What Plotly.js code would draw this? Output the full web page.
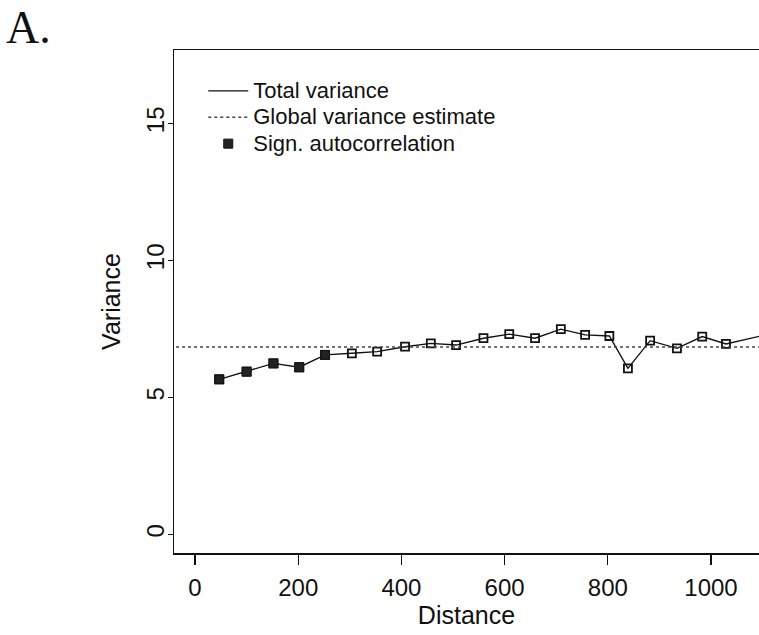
<!DOCTYPE html>
<html>
<head>
<meta charset="utf-8">
<script src="https://cdn.plot.ly/plotly-3.0.1.min.js"></script>
<style>html,body{margin:0;padding:0;background:#fff;}#chart{width:759px;height:635px;}</style>
</head>
<body>
<div id="chart"></div>
<script>
// Data
const distance = [47, 100, 152, 202, 252, 304, 353, 407, 457, 506, 559, 609, 659, 709, 756, 803, 839, 882, 934, 983, 1029, 1110];
const totalVariance = [5.66, 5.94, 6.24, 6.10, 6.55, 6.61, 6.67, 6.85, 6.97, 6.91, 7.16, 7.31, 7.16, 7.49, 7.28, 7.24, 6.06, 7.07, 6.79, 7.22, 6.95, 7.30];
const significant = [true, true, true, true, true, false, false, false, false, false, false, false, false, false, false, false, false, false, false, false, false, false];
const globalVariance = 6.84;
const globalX = [-60, 1200];
const xTicks = [0, 200, 400, 600, 800, 1000];
const yTicks = [0, 5, 10, 15];
const seriesNames = ['Total variance', 'Global variance estimate', 'Sign. autocorrelation'];

const sigX = distance.filter((d, i) => significant[i]);
const sigY = totalVariance.filter((d, i) => significant[i]);

const font = 'Liberation Sans, Arial, Helvetica, sans-serif';
const big = s => '<span style="font-size:22px">' + s + '</span>';

const traces = [
  {
    x: distance, y: totalVariance, type: 'scatter', mode: 'lines',
    name: big(seriesNames[0]),
    line: {color: '#111', width: 1.4}
  },
  {
    x: distance, y: totalVariance, type: 'scatter', mode: 'markers',
    showlegend: false, hoverinfo: 'skip',
    marker: {symbol: 'square-open', size: 8, color: '#111', line: {width: 1.8, color: '#111'}}
  },
  {
    x: globalX, y: globalX.map(() => globalVariance), type: 'scatter', mode: 'lines',
    name: big(seriesNames[1]),
    line: {color: '#444', width: 1.4, dash: 'dot'}
  },
  {
    x: sigX, y: sigY, type: 'scatter', mode: 'markers',
    name: big(seriesNames[2]),
    marker: {symbol: 'square', size: 9, color: '#222', line: {width: 1, color: '#111'}}
  }
];

const layout = {
  width: 759, height: 635,
  margin: {l: 174, r: 0, t: 50, b: 82},
  paper_bgcolor: '#fff', plot_bgcolor: '#fff',
  font: {family: font, color: '#111', size: 24},
  showlegend: true,
  legend: {
    x: 0.05, y: 0.955, xanchor: 'left', yanchor: 'top',
    bgcolor: 'rgba(0,0,0,0)', font: {family: font, size: 18, color: '#111'},
    itemwidth: 40, tracegroupgap: 0
  },
  xaxis: {
    range: [-40.7, 1093], tickvals: xTicks, ticktext: xTicks.map(String),
    ticks: 'outside', ticklen: 10, tickwidth: 1.3, tickcolor: '#111',
    ticklabelstandoff: 3,
    showline: true, linecolor: '#111', linewidth: 1.5, mirror: true,
    showgrid: false, zeroline: false,
    tickfont: {family: font, size: 24},
    title: {text: 'Distance', font: {family: font, size: 25}, standoff: 1}
  },
  yaxis: {
    range: [-0.68, 17.68], tickvals: yTicks, ticktext: yTicks.map(String),
    tickangle: -90,
    ticks: 'outside', ticklen: 5, tickwidth: 1.3, tickcolor: '#111',
    ticklabelstandoff: -6,
    showline: true, linecolor: '#111', linewidth: 1.5, mirror: true,
    showgrid: false, zeroline: false,
    tickfont: {family: font, size: 24},
    title: {text: 'Variance', font: {family: font, size: 25}, standoff: 14}
  },
  annotations: [
    {text: 'A.', xref: 'paper', yref: 'paper', x: -0.291, y: 1.0994, xanchor: 'left', yanchor: 'top',
     showarrow: false, font: {family: 'Liberation Serif, Times New Roman, serif', size: 46, color: '#111'}}
  ]
};

Plotly.newPlot('chart', traces, layout, {staticPlot: true, displayModeBar: false});
</script>
</body>
</html>
